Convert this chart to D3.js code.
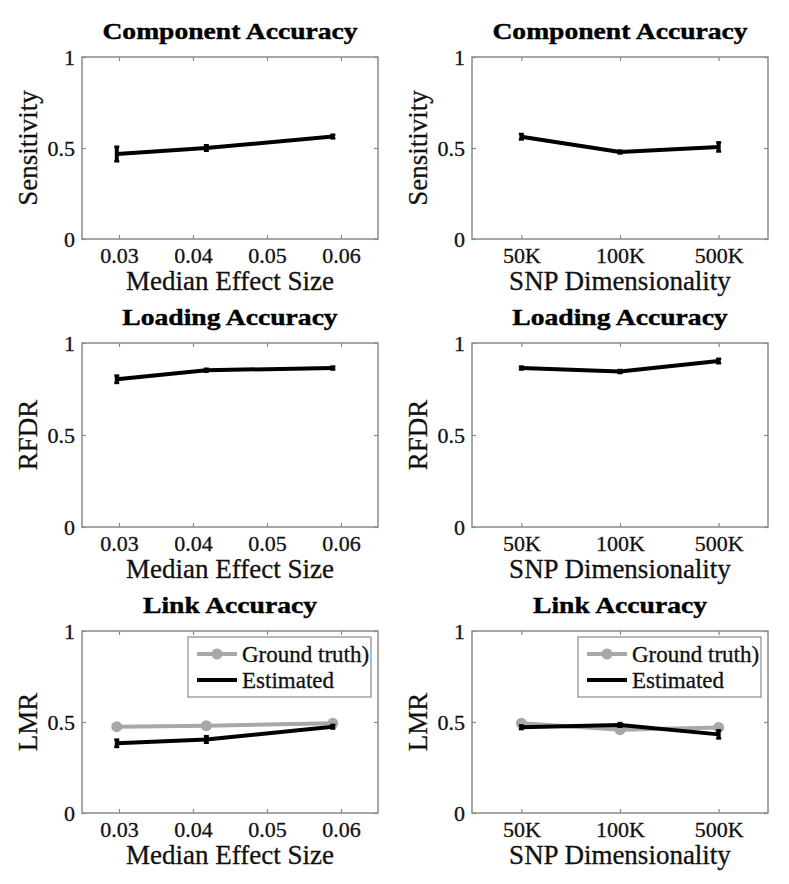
<!DOCTYPE html>
<html>
<head>
<meta charset="utf-8">
<script src="https://cdn.jsdelivr.net/npm/d3@7"></script>
<style>
  body { margin: 0; background: #fff; }
  svg { display: block; }
  svg text { font-family: "Liberation Serif", "Times New Roman", serif; }
</style>
</head>
<body>
<div id="chart"></div>
<script>
// x values
const effectSizes = [0.0297, 0.0418, 0.0589];
const effectTicks = [0.03, 0.04, 0.05, 0.06];
const dimLabels = ["50K", "100K", "500K"];
const yTicks = [0, 0.5, 1];

// component accuracy (sensitivity)
const sensEffect = [0.467, 0.500, 0.563];
const sensEffectErr = [0.040, 0.015, 0.010];
const sensDim = [0.562, 0.478, 0.506];
const sensDimErr = [0.015, 0.008, 0.025];

// loading accuracy (RFDR)
const rfdrEffect = [0.803, 0.852, 0.864];
const rfdrEffectErr = [0.020, 0.008, 0.008];
const rfdrDim = [0.864, 0.845, 0.902];
const rfdrDimErr = [0.008, 0.008, 0.012];

// link accuracy (LMR)
const lmrTruthEffect = [0.474, 0.480, 0.493];
const lmrEstEffect = [0.383, 0.404, 0.474];
const lmrEstEffectErr = [0.020, 0.018, 0.010];
const lmrTruthDim = [0.493, 0.458, 0.470];
const lmrEstDim = [0.471, 0.484, 0.432];
const lmrEstDimErr = [0.010, 0.010, 0.022];

const W = 789, H = 884;
const FONT = "Liberation Serif";
const FRAME = "#8a8a8a";
const GRAY = "#a8a8a8";
const INK = "#111";

const svg = d3.select("#chart").append("svg")
    .attr("width", W)
    .attr("height", H);

const colX = [82, 472];
const rowY = [57, 343, 631];
const rowH = [182, 184, 182];
const pw = 296;

function drawPanel(opt) {
    const left = colX[opt.col], top = rowY[opt.row], h = rowH[opt.row];
    const g = svg.append("g").attr("transform", `translate(${left},${top})`);

    let x, xs, xAxis;
    if (opt.kind === "effect") {
        x = d3.scaleLinear().domain([0.025, 0.065]).range([0, pw]);
        xs = effectSizes;
        xAxis = d => d.tickValues(effectTicks).tickFormat(d3.format(".2f"));
    } else {
        x = d3.scalePoint().domain(dimLabels).range([0, pw]).padding(0.5);
        xs = dimLabels;
        xAxis = d => d;
    }
    const y = d3.scaleLinear().domain([0, 1]).range([h, 0]);

    // frame
    g.append("rect")
        .attr("width", pw).attr("height", h)
        .attr("fill", "none").attr("stroke", FRAME).attr("stroke-width", 1.5);

    // axes with inward ticks
    const bottom = g.append("g").attr("transform", `translate(0,${h})`)
        .call(xAxis(d3.axisBottom(x)).tickSizeInner(-4).tickSizeOuter(0).tickPadding(8));
    const topAx = g.append("g")
        .call(xAxis(d3.axisTop(x)).tickSizeInner(-4).tickSizeOuter(0).tickFormat(""));
    const leftAx = g.append("g")
        .call(d3.axisLeft(y).tickValues(yTicks).tickFormat(d3.format("")).tickSizeInner(-4).tickSizeOuter(0).tickPadding(7));
    const rightAx = g.append("g").attr("transform", `translate(${pw},0)`)
        .call(d3.axisRight(y).tickValues(yTicks).tickSizeInner(-4).tickSizeOuter(0).tickFormat(""));
    [bottom, topAx, leftAx, rightAx].forEach(a => {
        a.attr("font-family", FONT).attr("font-size", 22);
        a.select(".domain").remove();
        a.selectAll("line").attr("stroke", FRAME).attr("stroke-width", 1.2);
        a.selectAll("text").attr("fill", INK).attr("stroke", INK).attr("stroke-width", 0.3);
    });

    // title
    g.append("text")
        .attr("transform", `translate(${pw / 2},${-18}) scale(1.2,1)`)
        .attr("text-anchor", "middle")
        .attr("font-family", FONT)
        .attr("font-weight", "bold")
        .attr("font-size", 23)
        .attr("fill", "#000")
        .attr("stroke", "#000").attr("stroke-width", 0.4)
        .text(opt.title);

    // axis labels
    g.append("text")
        .attr("x", pw / 2).attr("y", h + 51)
        .attr("text-anchor", "middle")
        .attr("font-family", FONT)
        .attr("font-size", 27)
        .attr("fill", INK).attr("stroke", INK).attr("stroke-width", 0.3)
        .text(opt.kind === "effect" ? "Median Effect Size" : "SNP Dimensionality");
    g.append("text")
        .attr("transform", `translate(-45,${h / 2}) rotate(-90)`)
        .attr("text-anchor", "middle")
        .attr("font-family", FONT)
        .attr("font-size", 27)
        .attr("fill", INK).attr("stroke", INK).attr("stroke-width", 0.3)
        .text(opt.ylabel);

    const line = d3.line().x((d, i) => x(xs[i])).y(d => y(d));

    // ground truth series (gray with dots)
    if (opt.truth) {
        g.append("path").datum(opt.truth)
            .attr("d", line).attr("fill", "none")
            .attr("stroke", GRAY).attr("stroke-width", 4);
        g.selectAll("circle.gt").data(opt.truth).enter().append("circle")
            .attr("cx", (d, i) => x(xs[i])).attr("cy", d => y(d))
            .attr("r", 5.5).attr("fill", GRAY);
    }

    // estimated series with error bars
    g.append("path").datum(opt.values)
        .attr("d", line).attr("fill", "none")
        .attr("stroke", "#000").attr("stroke-width", 4)
        .attr("stroke-linejoin", "round");
    const eb = g.selectAll("g.eb").data(opt.values).enter().append("g");
    eb.append("line")
        .attr("x1", (d, i) => x(xs[i])).attr("x2", (d, i) => x(xs[i]))
        .attr("y1", (d, i) => y(d - opt.err[i])).attr("y2", (d, i) => y(d + opt.err[i]))
        .attr("stroke", "#000").attr("stroke-width", 4);
    [-1, 1].forEach(s => {
        eb.append("line")
            .attr("x1", (d, i) => x(xs[i]) - 2.5).attr("x2", (d, i) => x(xs[i]) + 2.5)
            .attr("y1", (d, i) => y(d + s * opt.err[i])).attr("y2", (d, i) => y(d + s * opt.err[i]))
            .attr("stroke", "#000").attr("stroke-width", 2.5);
    });

    // legend
    if (opt.truth) {
        const lg = g.append("g").attr("transform", "translate(106,6)");
        lg.append("rect").attr("width", 183).attr("height", 60)
            .attr("fill", "#fff").attr("stroke", FRAME).attr("stroke-width", 1.2);
        const items = [
            { name: "Ground truth)", color: GRAY, dot: true },
            { name: "Estimated", color: "#000", dot: false }
        ];
        items.forEach((it, i) => {
            const ly = 17 + i * 26;
            lg.append("line").attr("x1", 9).attr("x2", 49).attr("y1", ly).attr("y2", ly)
                .attr("stroke", it.color).attr("stroke-width", 4);
            if (it.dot) lg.append("circle").attr("cx", 29).attr("cy", ly).attr("r", 5.5).attr("fill", it.color);
            lg.append("text").attr("x", 54).attr("y", ly + 8)
                .attr("font-family", FONT)
                .attr("font-size", 23)
                .attr("fill", INK).attr("stroke", INK).attr("stroke-width", 0.3)
                .text(it.name);
        });
    }
}

drawPanel({ row: 0, col: 0, kind: "effect", title: "Component Accuracy", ylabel: "Sensitivity", values: sensEffect, err: sensEffectErr });
drawPanel({ row: 0, col: 1, kind: "dim", title: "Component Accuracy", ylabel: "Sensitivity", values: sensDim, err: sensDimErr });
drawPanel({ row: 1, col: 0, kind: "effect", title: "Loading Accuracy", ylabel: "RFDR", values: rfdrEffect, err: rfdrEffectErr });
drawPanel({ row: 1, col: 1, kind: "dim", title: "Loading Accuracy", ylabel: "RFDR", values: rfdrDim, err: rfdrDimErr });
drawPanel({ row: 2, col: 0, kind: "effect", title: "Link Accuracy", ylabel: "LMR", values: lmrEstEffect, err: lmrEstEffectErr, truth: lmrTruthEffect });
drawPanel({ row: 2, col: 1, kind: "dim", title: "Link Accuracy", ylabel: "LMR", values: lmrEstDim, err: lmrEstDimErr, truth: lmrTruthDim });
</script>
</body>
</html>
